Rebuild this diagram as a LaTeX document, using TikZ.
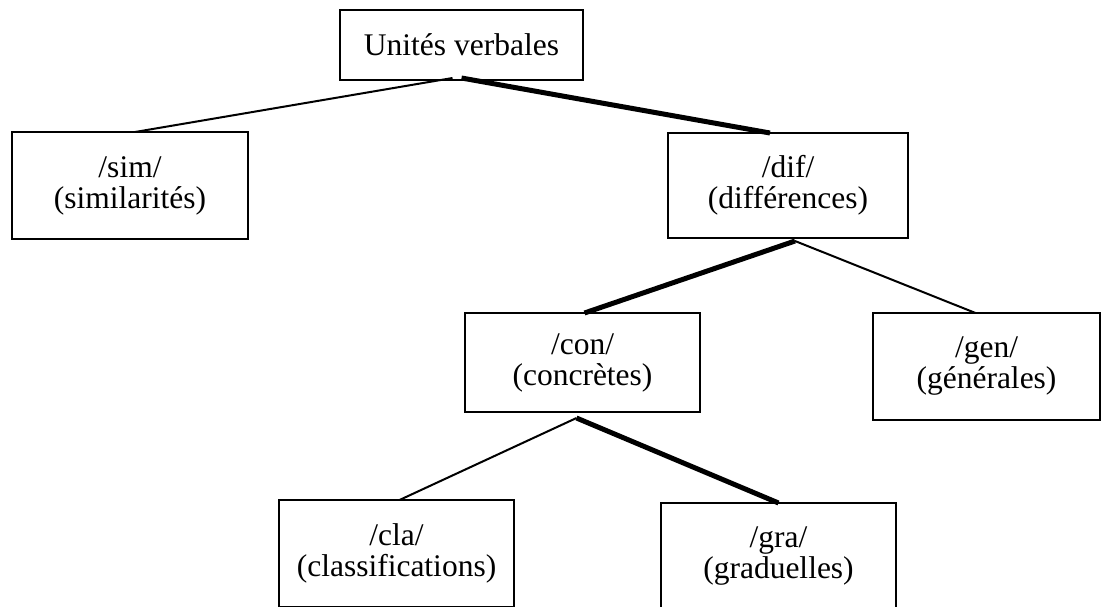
\documentclass[tikz,border=0pt]{standalone}
\usepackage{fontspec}
\setmainfont{Liberation Serif}

\begin{document}
\begin{tikzpicture}[x=1pt, y=-1pt,
    box/.style = {draw, line width=2pt, align=center,
                inner sep=0pt, outer sep=0pt,
                font=\fontsize{31.5}{31}\selectfont},
    thinline/.style = {line width=2pt},
    heavyline/.style = {line width=5pt}
                    ]
        \useasboundingbox (0,0) rectangle (1101,606);
        \clip (0,0) rectangle (1101,606);
        % boxes
        \node[box, minimum width=243pt, minimum height=70pt] at (461.5,45) (uv) {Unités verbales};
        \node[box, minimum width=236pt, minimum height=107pt] at (130,185.5) (sim) {/sim/\\(similarités)};
        \node[box, minimum width=240pt, minimum height=105pt] at (788,185.5) (dif) {/dif/\\(différences)};
        \node[box, minimum width=235pt, minimum height=99pt] at (582.5,362.5) (con) {/con/\\(concrètes)};
        \node[box, minimum width=227pt, minimum height=107pt] at (986.5,366.5) (gen) {/gen/\\(générales)};
        \node[box, minimum width=235pt, minimum height=107pt] at (396.5,553.5) (cla) {/cla/\\(classifications)};
        \node[box, minimum width=235pt, minimum height=107pt] at (778.5,556.5) (gra) {/gra/\\(graduelles)};
        % branches
        \draw [thinline] ([xshift=-9pt,yshift=2pt]uv.south) -- ([xshift=5pt]sim.north);
        \draw [heavyline] ([yshift=2pt]uv.south) -- ([xshift=-18pt]dif.north);
        \draw [heavyline] ([xshift=7pt,yshift=-3pt]dif.south) -- ([xshift=2pt]con.north);
        \draw [thinline] ([xshift=7pt,yshift=-3pt]dif.south) -- ([xshift=-11pt]gen.north);
        \draw [thinline] ([xshift=-6pt,yshift=-6pt]con.south) -- ([xshift=3pt]cla.north);
        \draw [heavyline] ([xshift=-6pt,yshift=-6pt]con.south) -- (gra.north);
    \end{tikzpicture}
\end{document}
